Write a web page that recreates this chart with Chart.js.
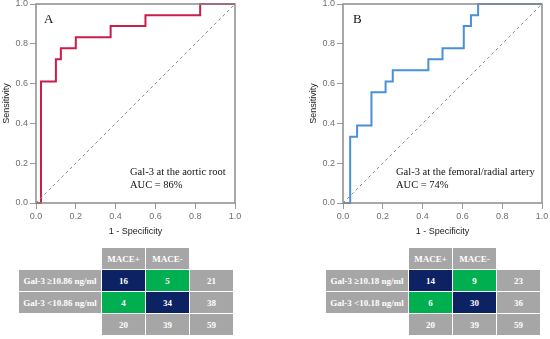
<!DOCTYPE html>
<html>
<head>
<meta charset="utf-8">
<script src="https://cdn.jsdelivr.net/npm/chart.js@4.4.0/dist/chart.umd.min.js"></script>
<style>
  html, body { margin: 0; padding: 0; background: #fff; }
  body { width: 550px; height: 339px; position: relative; overflow: hidden; }
  .panel { position: absolute; top: 0; width: 250px; height: 240px; }
  .tbl { position: absolute; top: 248px; display: grid;
         grid-template-columns: 82px 43px 43px 43px; grid-template-rows: 21px 21px 21px 21px;
         gap: 1px 1px; font: bold 9px "Liberation Serif", "Times New Roman", serif; color: #fff; }
  .tbl div { display: flex; align-items: center; justify-content: center; white-space: nowrap; }
  .gray { background: #a6a6a6; }
  .navy { background: #0c2262; }
  .green { background: #00b050; }
</style>
</head>
<body>
<div class="panel" style="left:0"><canvas id="rocA" width="250" height="240"></canvas></div>
<div class="panel" style="left:307px"><canvas id="rocB" width="250" height="240"></canvas></div>
<div class="tbl" id="tblA" style="left:19px"></div>
<div class="tbl" id="tblB" style="left:326px"></div>
<script>
// ROC curve points (1 - specificity, sensitivity)
const rocA_fpr = [0, 0.025, 0.1, 0.125, 0.2, 0.375, 0.55, 0.825, 1.0];
const rocA_tpr = [0, 0.611, 0.722, 0.778, 0.833, 0.889, 0.944, 1.0, 1.0];
const rocB_fpr = [0, 0.036, 0.071, 0.143, 0.214, 0.25, 0.429, 0.5, 0.607, 0.643, 0.679, 1.0];
const rocB_tpr = [0, 0.333, 0.389, 0.556, 0.611, 0.667, 0.722, 0.778, 0.889, 0.944, 1.0, 1.0];
const diagX = [0, 1];
const diagY = [0, 1];
const tickLabels = ['0.0', '0.2', '0.4', '0.6', '0.8', '1.0'];

// contingency tables
const tableCols = ['MACE+', 'MACE-'];
const tableA_rows = ['Gal-3 \u226510.86 ng/ml', 'Gal-3 <10.86 ng/ml'];
const tableA_counts = [[16, 5], [4, 34]];
const tableA_rowTotals = [21, 38];
const tableA_colTotals = [20, 39];
const tableA_total = 59;
const tableB_rows = ['Gal-3 \u226510.18 ng/ml', 'Gal-3 <10.18 ng/ml'];
const tableB_counts = [[14, 9], [6, 30]];
const tableB_rowTotals = [23, 36];
const tableB_colTotals = [20, 39];
const tableB_total = 59;

const sansFont = '"Liberation Sans", Arial, sans-serif';
const serifFont = '"Liberation Serif", "Times New Roman", serif';

function toPoints(xs, ys) {
    return xs.map((x, i) => ({ x: x, y: ys[i] }));
}

// box round the plot + panel letter + AUC note
const framePlugin = {
    id: 'frame',
    afterDraw(chart, args, opts) {
        const { ctx, chartArea: a } = chart;
        ctx.save();
        ctx.strokeStyle = '#8c8c8c';
        ctx.lineWidth = 1.5;
        ctx.strokeRect(a.left, a.top, a.right - a.left, a.bottom - a.top);
        ctx.fillStyle = '#111';
        ctx.textBaseline = 'alphabetic';
        ctx.textAlign = 'left';
        ctx.font = '13px ' + serifFont;
        ctx.fillText(opts.letter, a.left + opts.letterX, a.top + 19);
        ctx.font = '10.5px ' + serifFont;
        ctx.fillText(opts.note, a.left + opts.noteX, a.top + 171);
        ctx.fillText(opts.auc, a.left + opts.noteX, a.top + 183.5);
        ctx.restore();
    }
};

function fixAxis(size, horizontal) {
    return function(scale) {
        if (horizontal) scale.height = size; else scale.width = size;
        scale.paddingLeft = 0; scale.paddingRight = 0;
        scale.paddingTop = 0; scale.paddingBottom = 0;
    };
}

function makeRoc(id, xs, ys, color, frameOpts) {
    const ctx = document.getElementById(id).getContext('2d');
    return new Chart(ctx, {
        type: 'line',
        data: {
            datasets: [
                { data: toPoints(diagX, diagY), borderColor: '#8a8a8a', borderWidth: 1, borderDash: [3, 3], pointRadius: 0 },
                { data: toPoints(xs, ys), borderColor: color, borderWidth: 2, stepped: 'before', pointRadius: 0 }
            ]
        },
        options: {
            responsive: false,
            animation: false,
            clip: false,
            layout: { padding: { top: 4, right: 15, bottom: 0, left: 0 } },
            plugins: { legend: { display: false }, tooltip: { enabled: false }, frame: frameOpts },
            scales: {
                x: {
                    type: 'linear', min: 0, max: 1,
                    afterFit: fixAxis(37, true),
                    ticks: { stepSize: 0.2, padding: 2, color: '#6f6f6f', font: { family: sansFont, size: 9 },
                             maxRotation: 0, callback: (v, i) => tickLabels[i] },
                    grid: { drawOnChartArea: false, drawTicks: true, tickLength: 6, color: '#9a9a9a' },
                    border: { display: false },
                    title: { display: true, text: '1 - Specificity', color: '#222', padding: { top: 0, bottom: 3 },
                             font: { family: sansFont, size: 9 } }
                },
                y: {
                    type: 'linear', min: 0, max: 1,
                    afterFit: fixAxis(36, false),
                    ticks: { stepSize: 0.2, padding: 2, color: '#6f6f6f', font: { family: sansFont, size: 9 },
                             callback: (v, i) => tickLabels[i] },
                    grid: { drawOnChartArea: false, drawTicks: true, tickLength: 6, color: '#9a9a9a' },
                    border: { display: false },
                    title: { display: true, text: 'Sensitivity', color: '#222', padding: { top: 1, bottom: 0 },
                             font: { family: sansFont, size: 9 } }
                }
            }
        },
        plugins: [framePlugin]
    });
}

makeRoc('rocA', rocA_fpr, rocA_tpr, '#c91d4a',
    { letter: 'A', letterX: 8, note: 'Gal-3 at the aortic root', auc: 'AUC = 86%', noteX: 94 });
makeRoc('rocB', rocB_fpr, rocB_tpr, '#4a8fdb',
    { letter: 'B', letterX: 10, note: 'Gal-3 at the femoral/radial artery', auc: 'AUC = 74%', noteX: 53 });

function buildTable(elId, rows, counts, rowTotals, colTotals, total) {
    const el = document.getElementById(elId);
    let html = '<div></div>';
    tableCols.forEach(c => { html += `<div class="gray">${c}</div>`; });
    html += '<div></div>';
    rows.forEach((r, i) => {
        html += `<div class="gray">${r}</div>`;
        counts[i].forEach((n, j) => {
            html += `<div class="${i === j ? 'navy' : 'green'}">${n}</div>`;
        });
        html += `<div class="gray">${rowTotals[i]}</div>`;
    });
    html += '<div></div>';
    colTotals.forEach(n => { html += `<div class="gray">${n}</div>`; });
    html += `<div class="gray">${total}</div>`;
    el.innerHTML = html;
}

buildTable('tblA', tableA_rows, tableA_counts, tableA_rowTotals, tableA_colTotals, tableA_total);
buildTable('tblB', tableB_rows, tableB_counts, tableB_rowTotals, tableB_colTotals, tableB_total);
</script>
</body>
</html>
